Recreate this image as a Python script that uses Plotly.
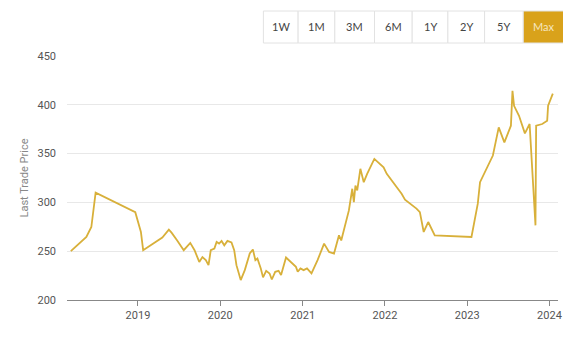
import plotly.graph_objects as go

dates = [
    "2018-03-09", "2018-05-17", "2018-06-08", "2018-06-27", "2018-12-20", "2019-01-14",
    "2019-01-24", "2019-03-21", "2019-04-19", "2019-05-18", "2019-05-30", "2019-06-24",
    "2019-07-23", "2019-08-21", "2019-09-09", "2019-09-30", "2019-10-14", "2019-10-29",
    "2019-11-10", "2019-11-20", "2019-12-06", "2019-12-16", "2019-12-27", "2020-01-07",
    "2020-01-19", "2020-02-02", "2020-02-20", "2020-03-03", "2020-03-13", "2020-04-01",
    "2020-04-19", "2020-05-11", "2020-05-25", "2020-06-05", "2020-06-14", "2020-06-29",
    "2020-07-09", "2020-07-23", "2020-08-07", "2020-08-17", "2020-09-01", "2020-09-16",
    "2020-09-27", "2020-10-19", "2020-11-10", "2020-12-02", "2020-12-10", "2020-12-22",
    "2021-01-05", "2021-01-20", "2021-02-09", "2021-03-08", "2021-04-06", "2021-04-28",
    "2021-05-20", "2021-06-11", "2021-06-21", "2021-07-10", "2021-07-25", "2021-08-09",
    "2021-08-16", "2021-08-23", "2021-08-31", "2021-09-14", "2021-09-29", "2021-10-14",
    "2021-11-15", "2021-12-26", "2022-01-09", "2022-03-16", "2022-03-31", "2022-05-21",
    "2022-06-05", "2022-06-22", "2022-07-12", "2022-08-10", "2023-01-20", "2023-02-17",
    "2023-02-27", "2023-04-25", "2023-05-21", "2023-06-15", "2023-07-14", "2023-07-21",
    "2023-07-28", "2023-08-19", "2023-09-14", "2023-10-05", "2023-10-31", "2023-11-03",
    "2023-11-30", "2023-12-22", "2023-12-26", "2024-01-16",
]
prices = [
    250, 264.6, 274.8, 310, 290, 269.7,
    251, 259.5, 264, 272, 269, 261,
    251, 258.5, 251, 239, 244, 240.8,
    235.7, 251, 252.7, 259.5, 257.8, 260.5,
    256, 260.5, 258.9, 251, 235.7, 220.4,
    230.6, 247.6, 251.7, 240.8, 242.5, 232.3,
    223.2, 229.9, 227.2, 221, 228.9, 229.9,
    225.5, 243.5, 239, 234, 228.9, 232.3,
    230.6, 232.3, 227.2, 240.8, 257.8, 249.3,
    247.6, 266.3, 261, 278.3, 291.8, 314,
    300.3, 317.3, 312.2, 334.4, 320.7, 329.3,
    344.6, 336, 329.3, 308.9, 302.8, 293.6,
    290, 269.7, 279.9, 266.3, 264.6, 298.7,
    320.7, 348, 376.8, 361.5, 378.6, 414.3,
    399, 388.8, 370.7, 380.3, 276.5, 378.6,
    380.3, 383.7, 399, 411.5,
]
year_ticks = ["2019-01-01", "2020-01-01", "2021-01-01", "2022-01-01", "2023-01-01", "2024-01-01"]
year_labels = ["2019", "2020", "2021", "2022", "2023", "2024"]
y_ticks = [200, 250, 300, 350, 400, 450]
buttons = ["1W", "1M", "3M", "6M", "1Y", "2Y", "5Y", "Max"]

OFF = 8  # default page body margin
W, H = 571 - OFF, 341 - OFF
ml, mr, mt, mb = 67 - OFF, 9, 56 - OFF, 41
pw, ph = W - ml - mr, H - mt - mb

def px2paper_x(px):
    return (px - OFF - ml) / pw

def px2paper_y(py):
    return (H - mb - (py - OFF)) / ph

fig = go.Figure()
fig.add_trace(go.Scatter(
    x=dates, y=prices, mode="lines",
    line=dict(color="#D8B03A", width=1.8),
    hoverinfo="skip",
))

font_fam = "Roboto, Liberation Sans, Arial, sans-serif"

fig.update_layout(
    width=W, height=H,
    margin=dict(l=ml, r=mr, t=mt, b=mb),
    paper_bgcolor="white", plot_bgcolor="white",
    showlegend=False,
    font=dict(family=font_fam, size=11, color="#555"),
    xaxis=dict(
        range=["2018-02-20", "2024-02-08"],
        tickvals=year_ticks, ticktext=year_labels,
        showgrid=False, zeroline=False,
        showline=True, linecolor="#888", linewidth=1,
        ticks="outside", ticklen=5, tickcolor="#888",
        tickfont=dict(size=11, color="#555"),
    ),
    yaxis=dict(
        range=[200, 450],
        tickvals=y_ticks,
        showgrid=True, gridcolor="#e8e8e8", gridwidth=1,
        zeroline=False, showline=False,
        ticks="", ticklabelstandoff=10,
        tickfont=dict(size=11, color="#555"),
        title=dict(text="Last Trade Price", font=dict(size=11, color="#888"), standoff=6),
    ),
)

# range buttons
edges = [265, 300, 337, 377, 415, 451, 488, 527, 568]
top, bot = 11, 43
for i, lab in enumerate(buttons):
    x0, x1 = edges[i], edges[i + 1]
    active = lab == "Max"
    fig.add_shape(
        type="rect", xref="paper", yref="paper",
        x0=px2paper_x(x0), x1=px2paper_x(x1),
        y0=px2paper_y(bot), y1=px2paper_y(top),
        line=dict(color="#e2e2e2", width=1),
        fillcolor="#D9A21B" if active else "white",
        layer="above",
    )
    fig.add_annotation(
        xref="paper", yref="paper",
        x=px2paper_x((x0 + x1) / 2), y=px2paper_y((top + bot) / 2),
        text=lab, showarrow=False,
        font=dict(family="Lato, Open Sans, sans-serif", size=11,
                  color="#f5e6c0" if active else "#444"),
        xanchor="center", yanchor="middle",
    )

fig.write_html("out.html")
